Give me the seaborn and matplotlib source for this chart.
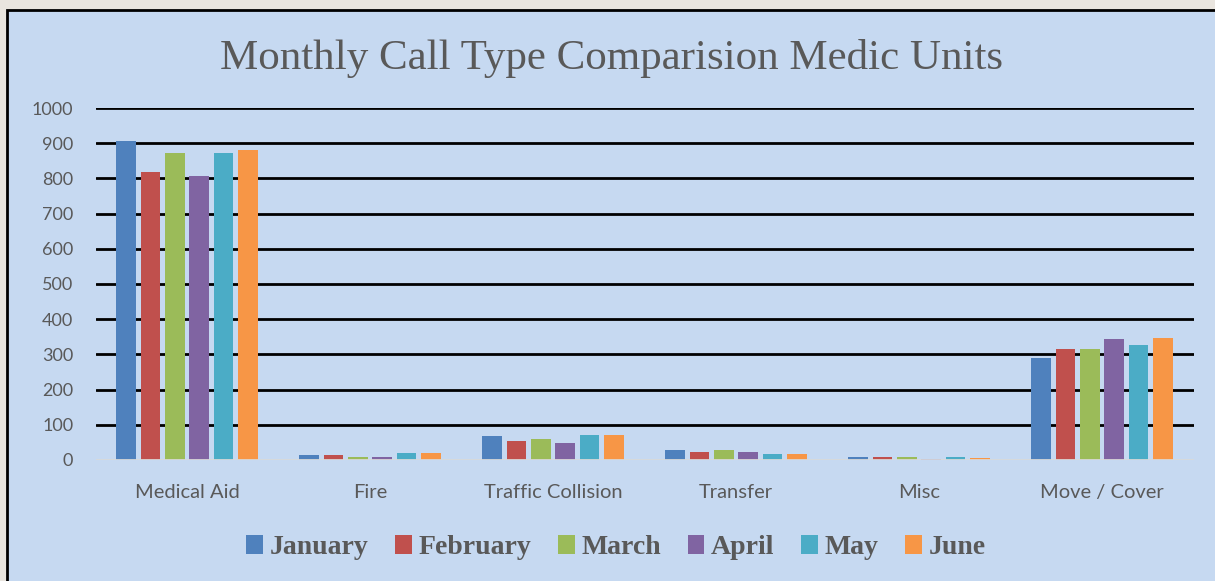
import pandas as pd
import matplotlib.pyplot as plt
import seaborn as sns
from matplotlib.patches import Rectangle

# Data
categories = ["Medical Aid", "Fire", "Traffic Collision", "Transfer", "Misc", "Move / Cover"]
months = ["January", "February", "March", "April", "May", "June"]
january = [906, 13, 69, 27, 8, 290]
february = [818, 14, 54, 23, 9, 314]
march = [873, 9, 60, 29, 8, 316]
april = [807, 8, 48, 23, 3, 345]
may = [872, 20, 71, 18, 8, 327]
june = [881, 21, 70, 17, 5, 348]
yticks = list(range(0, 1001, 100))

colors = ["#4F81BD", "#C0504D", "#9BBB59", "#8064A2", "#4BACC6", "#F79646"]
bg = "#C6D9F1"
text_col = "#595959"

# long format table for seaborn
rows = []
for m, vals in zip(months, [january, february, march, april, may, june]):
    for c, v in zip(categories, vals):
        rows.append({"Category": c, "Month": m, "Calls": v})
df = pd.DataFrame(rows)

sns.set_theme(style="white")
plt.rcParams["font.family"] = ["Lato", "DejaVu Sans"]

fig = plt.figure(figsize=(12.15, 5.81), dpi=100)
fig.patch.set_facecolor("#E9E5DF")

# chart box with black border
box = Rectangle((7 / 1215, -0.01), 1.02, (581 - 10) / 581 + 0.01,
                transform=fig.transFigure, facecolor=bg, edgecolor="black",
                linewidth=2, zorder=-10)
fig.patches.append(box)

ax = fig.add_axes([95.5 / 1215, 121 / 581, 1098 / 1215, 352 / 581])
ax.set_facecolor("none")

sns.barplot(data=df, x="Category", y="Calls", hue="Month", palette=colors,
            saturation=1, width=0.8, gap=0.2, linewidth=0, ax=ax,
            legend=True, zorder=3)

ax.set_xlim(-0.5, 5.5)
ax.set_ylim(0, 1000)
ax.set_yticks(yticks)
for y in yticks[1:]:
    ax.axhline(y, color="black", linewidth=2, zorder=1)
ax.axhline(0, color="#D9D9D9", linewidth=2, zorder=4)

for s in ax.spines.values():
    s.set_visible(False)
ax.tick_params(axis="y", length=0, pad=16, labelsize=13, labelcolor=text_col)
ax.tick_params(axis="x", length=0, pad=17, labelsize=14.5, labelcolor=text_col)
ax.set_xlabel("")
ax.set_ylabel("")

fig.text(0.503, 0.9, "Monthly Call Type Comparision Medic Units",
         ha="center", va="center", fontsize=31, color=text_col,
         family="Liberation Serif")

handles, labels = ax.get_legend_handles_labels()
for h in handles:
    h.set_edgecolor("none")
ax.legend_.remove()
fig.legend(handles, labels, loc="center", bbox_to_anchor=(0.507, 0.058),
           ncol=6, frameon=False, handlelength=0.6, handleheight=0.7,
           handletextpad=0.25, columnspacing=0.95,
           prop={"family": "Liberation Serif", "weight": "bold", "size": 20},
           labelcolor=text_col)

fig.savefig("out.png", dpi=100, facecolor=fig.get_facecolor())
